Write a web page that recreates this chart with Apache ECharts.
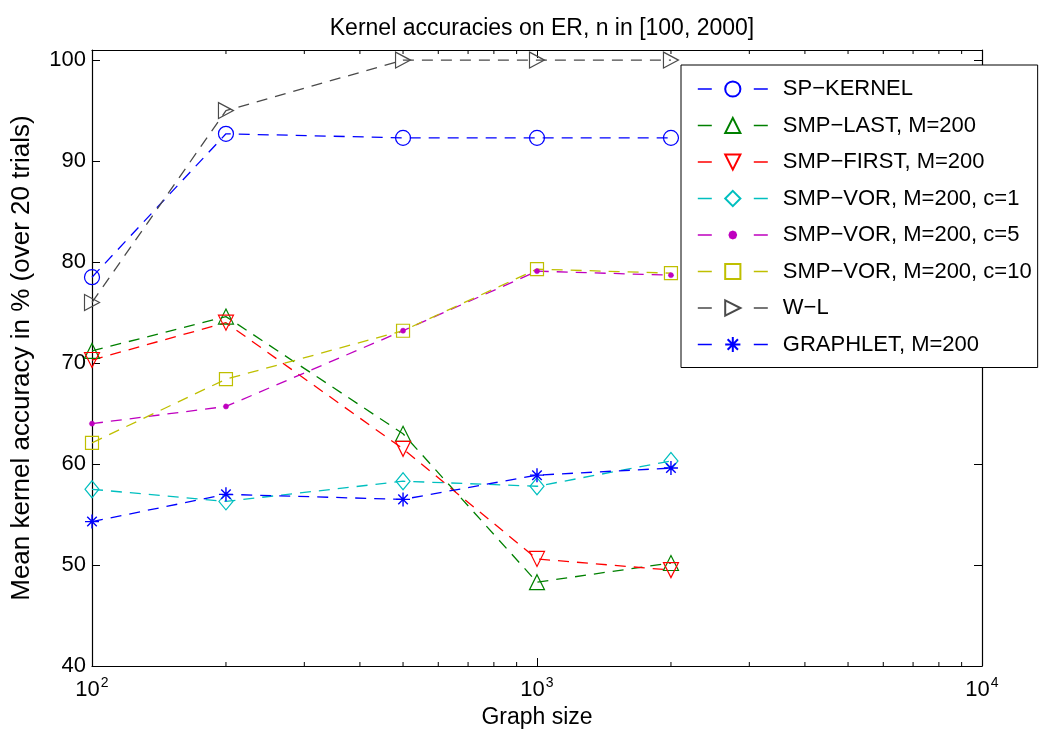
<!DOCTYPE html>
<html>
<head>
<meta charset="utf-8">
<title>Kernel accuracies on ER</title>
<script src="https://cdn.jsdelivr.net/npm/echarts@6/dist/echarts.min.js"></script>
<style>
  html, body { margin: 0; padding: 0; background: #fff; }
  #chart { width: 1047px; height: 736px; }
</style>
</head>
<body>
<div id="chart"></div>
<script>
// Graph sizes (n) at which each kernel was evaluated
const graphSizes = [100, 200, 500, 1000, 2000];

// Mean accuracy (%) over 20 trials, one array per kernel
const spKernel   = [78.5, 92.7, 92.3, 92.3, 92.3];
const smpLast    = [71.2, 74.6, 63.0, 48.3, 50.2];
const smpFirst   = [70.3, 74.0, 61.5, 50.6, 49.5];
const smpVor1    = [57.5, 56.3, 58.3, 57.8, 60.3];
const smpVor5    = [64.0, 65.7, 73.2, 79.1, 78.7];
const smpVor10   = [62.1, 68.4, 73.2, 79.3, 78.9];
const wl         = [76.0, 95.0, 100.0, 100.0, 100.0];
const graphlet   = [54.3, 57.0, 56.5, 58.9, 59.6];

const seriesNames = [
  'SP\u2212KERNEL',
  'SMP\u2212LAST, M=200',
  'SMP\u2212FIRST, M=200',
  'SMP\u2212VOR, M=200, c=1',
  'SMP\u2212VOR, M=200, c=5',
  'SMP\u2212VOR, M=200, c=10',
  'W\u2212L',
  'GRAPHLET, M=200'
];

// y tick labels and axis limits
const yTicks = [40, 50, 60, 70, 80, 90, 100];
const yMin = 40, yMax = 101;
const xMin = 100, xMax = 10000;

const FONT = '"Liberation Sans", Arial, Helvetica, sans-serif';

// marker shapes
const triDown  = 'path://M0,0 L10,0 L5,10 Z';
const triRight = 'path://M0,0 L10,5 L0,10 Z';
const asterisk = 'path://M5,0 L5,10 M0,5 L10,5 M1.6,1.6 L8.4,8.4 M1.6,8.4 L8.4,1.6';
// small filled dot centred in a 10x10 box (the move-to points keep the box size)
const dotMark  = 'path://M0,0 M10,10 M7.2,5 L6.6,6.6 L5,7.2 L3.4,6.6 L2.8,5 L3.4,3.4 L5,2.8 L6.6,3.4 Z';

function pairs(vals) {
  return graphSizes.map((n, i) => [n, vals[i]]);
}

function lineSeries(name, vals, color, symbol, size, opts) {
  opts = opts || {};
  return {
    name: name,
    type: 'line',
    data: pairs(vals),
    symbol: symbol,
    symbolSize: size,
    showAllSymbol: true,
    lineStyle: { color: color, width: 1.3, type: [11, 8] },
    itemStyle: Object.assign({
      color: 'rgba(0,0,0,0)',
      borderColor: color,
      borderWidth: 1.2
    }, opts.itemStyle || {}),
    emphasis: { disabled: true },
    animation: false,
    z: 3
  };
}

// minor tick positions of the logarithmic x axis (2..9 within each decade)
const minorTicks = [];
for (let d = xMin; d < xMax; d *= 10) {
  for (let k = 2; k <= 9; k++) minorTicks.push([k * d, yMin]);
}

const series = [
  lineSeries(seriesNames[0], spKernel, '#0000ff', 'circle', 15),
  lineSeries(seriesNames[1], smpLast, '#008000', 'triangle', 15),
  lineSeries(seriesNames[2], smpFirst, '#ff0000', triDown, 15),
  lineSeries(seriesNames[3], smpVor1, '#00bfbf', 'diamond', [14, 17]),
  lineSeries(seriesNames[4], smpVor5, '#bf00bf', dotMark, 12, {
    itemStyle: { color: '#bf00bf', borderColor: '#bf00bf', borderWidth: 0.5 }
  }),
  lineSeries(seriesNames[5], smpVor10, '#bfbf00', 'rect', 13),
  lineSeries(seriesNames[6], wl, '#4a4a4a', triRight, [15, 16]),
  lineSeries(seriesNames[7], graphlet, '#0000ff', asterisk, 14, {
    itemStyle: { borderWidth: 1.4 }
  }),
  {
    // minor ticks of the log axis, drawn inward at the bottom and top edges
    type: 'custom',
    silent: true,
    animation: false,
    data: minorTicks,
    z: 10,
    renderItem: function (params, api) {
      const p = api.coord([api.value(0), yMin]);
      const cs = params.coordSys;
      const top = cs.y;
      const bottom = cs.y + cs.height;
      const st = { stroke: '#000', lineWidth: 1 };
      return {
        type: 'group',
        children: [
          { type: 'line', shape: { x1: p[0], y1: bottom, x2: p[0], y2: bottom - 4 }, style: st },
          { type: 'line', shape: { x1: p[0], y1: top, x2: p[0], y2: top + 4 }, style: st }
        ]
      };
    }
  }
];

const chart = echarts.init(document.getElementById('chart'), null, { renderer: 'canvas' });

chart.setOption({
  backgroundColor: '#fff',
  animation: false,
  textStyle: { fontFamily: FONT },
  title: {
    text: 'Kernel accuracies on ER, n in [100, 2000]',
    left: 537,
    top: 12,
    textAlign: 'center',
    textStyle: { fontFamily: FONT, fontSize: 23, fontWeight: 'normal', color: '#000' }
  },
  grid: { left: 92, right: 65, top: 50, bottom: 70, containLabel: false },
  xAxis: [
    {
      type: 'log',
      logBase: 10,
      min: xMin,
      max: xMax,
      position: 'bottom',
      name: 'Graph size',
      nameLocation: 'middle',
      nameGap: 40,
      nameTextStyle: { fontFamily: FONT, fontSize: 23, color: '#000' },
      axisLine: { lineStyle: { color: '#000', width: 1.2 } },
      axisTick: { inside: true, length: 8, lineStyle: { color: '#000' } },
      splitLine: { show: false },
      axisLabel: {
        margin: 10,
        color: '#000',
        formatter: function (v) {
          const e = Math.round(Math.log10(v));
          return '{b|10}{s|' + e + '}';
        },
        rich: {
          b: { fontFamily: FONT, fontSize: 22, color: '#000' },
          s: { fontFamily: FONT, fontSize: 14, color: '#000', padding: [0, 0, 13, 1] }
        }
      }
    },
    {
      type: 'log',
      logBase: 10,
      min: xMin,
      max: xMax,
      position: 'top',
      axisLine: { lineStyle: { color: '#000', width: 1.2 } },
      axisTick: { inside: true, length: 8, lineStyle: { color: '#000' } },
      axisLabel: { show: false },
      splitLine: { show: false }
    }
  ],
  yAxis: [
    {
      type: 'value',
      min: yMin,
      max: yMax,
      interval: 10,
      position: 'left',
      name: 'Mean kernel accuracy in % (over 20 trials)',
      nameLocation: 'middle',
      nameRotate: 90,
      nameGap: 57,
      nameTextStyle: { fontFamily: FONT, fontSize: 26, color: '#000' },
      axisLine: { show: true, lineStyle: { color: '#000', width: 1.2 } },
      axisTick: { show: true, inside: true, length: 8, lineStyle: { color: '#000' } },
      splitLine: { show: false },
      axisLabel: {
        margin: 6,
        fontFamily: FONT,
        fontSize: 22,
        color: '#000',
        formatter: function (v) { return yTicks.indexOf(v) >= 0 ? String(v) : ''; }
      }
    },
    {
      type: 'value',
      min: yMin,
      max: yMax,
      interval: 10,
      position: 'right',
      axisLine: { show: true, lineStyle: { color: '#000', width: 1.2 } },
      axisTick: { show: true, inside: true, length: 8, lineStyle: { color: '#000' } },
      axisLabel: { show: false },
      splitLine: { show: false }
    }
  ],
  legend: {
    data: seriesNames,
    orient: 'vertical',
    left: 681,
    top: 65,
    padding: [12, 6, 11, 16],
    itemGap: 12.5,
    itemWidth: 70,
    itemHeight: 19,
    backgroundColor: '#fff',
    borderColor: '#000',
    borderWidth: 1,
    selectedMode: false,
    lineStyle: { type: [14, 42], width: 1.6 },
    textStyle: {
      fontFamily: FONT,
      fontSize: 22,
      lineHeight: 24,
      color: '#000',
      padding: [0, 0, 0, 10]
    }
  },
  series: series
});
</script>
</body>
</html>
